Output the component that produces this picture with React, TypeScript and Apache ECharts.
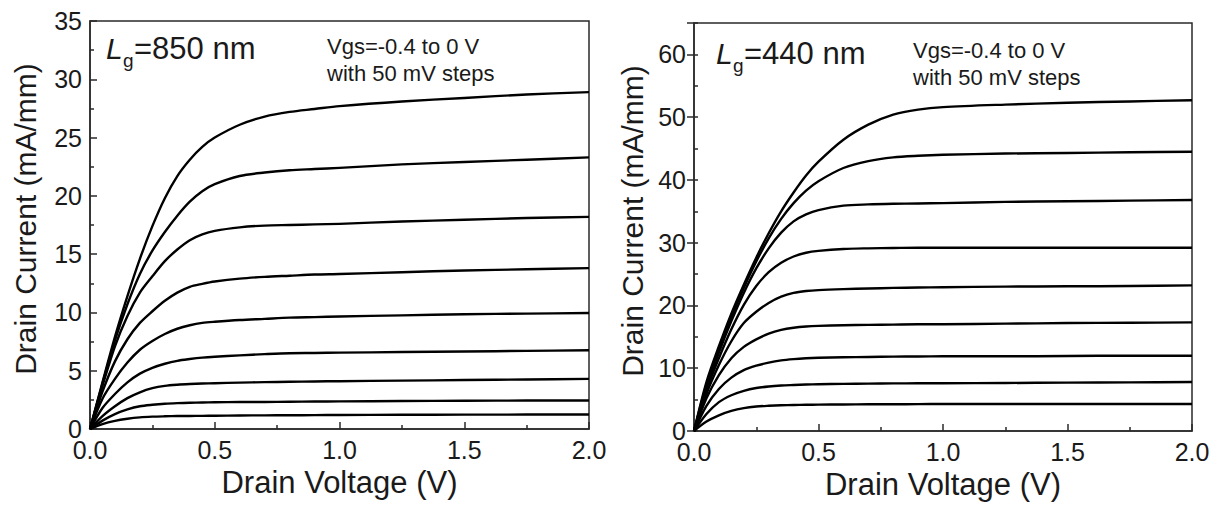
import React, { useEffect, useRef } from "react";
import * as echarts from "echarts";

// Drain voltage sample points (V)
const drainVoltage = [0, 0.05, 0.1, 0.15, 0.2, 0.25, 0.3, 0.35, 0.4, 0.45, 0.5, 0.6, 0.7, 0.8, 0.9, 1.0, 1.25, 1.5, 1.75, 2.0];

// Lg = 850 nm, Vgs = -0.4 ... 0 V (mA/mm)
const lg850_vgsm040 = [0, 0.42, 0.7, 0.88, 1.0, 1.06, 1.09, 1.11, 1.12, 1.13, 1.14, 1.16, 1.17, 1.18, 1.19, 1.2, 1.22, 1.23, 1.24, 1.25];
const lg850_vgsm035 = [0, 0.72, 1.28, 1.68, 1.95, 2.08, 2.17, 2.22, 2.25, 2.27, 2.29, 2.31, 2.32, 2.34, 2.36, 2.37, 2.4, 2.42, 2.44, 2.45];
const lg850_vgsm030 = [0, 1.1, 1.95, 2.65, 3.15, 3.5, 3.7, 3.8, 3.86, 3.9, 3.93, 3.98, 4.02, 4.05, 4.08, 4.1, 4.15, 4.2, 4.25, 4.3];
const lg850_vgsm025 = [0, 1.8, 3.0, 4.0, 4.75, 5.25, 5.6, 5.85, 6.0, 6.12, 6.2, 6.32, 6.42, 6.5, 6.52, 6.55, 6.6, 6.65, 6.7, 6.75];
const lg850_vgsm020 = [0, 2.6, 4.3, 5.7, 6.8, 7.55, 8.15, 8.6, 8.9, 9.1, 9.2, 9.35, 9.45, 9.55, 9.6, 9.65, 9.75, 9.85, 9.9, 9.95];
const lg850_vgsm015 = [0, 3.2, 5.8, 7.7, 9.1, 10.1, 11.0, 11.7, 12.2, 12.45, 12.65, 12.9, 13.05, 13.15, 13.25, 13.3, 13.45, 13.6, 13.7, 13.8];
const lg850_vgsm010 = [0, 3.7, 7.1, 9.7, 11.7, 13.1, 14.4, 15.4, 16.2, 16.7, 17.0, 17.3, 17.45, 17.5, 17.55, 17.6, 17.8, 17.95, 18.1, 18.2];
const lg850_vgsm005 = [0, 3.9, 7.6, 10.7, 13.3, 15.3, 16.9, 18.3, 19.5, 20.4, 21.0, 21.7, 22.0, 22.2, 22.3, 22.4, 22.7, 22.9, 23.1, 23.3];
const lg850_vgs000 = [0, 4.0, 7.9, 11.4, 14.6, 17.4, 19.8, 21.7, 23.1, 24.2, 25.0, 26.1, 26.8, 27.2, 27.45, 27.7, 28.1, 28.4, 28.7, 28.9];

// Lg = 440 nm, Vgs = -0.4 ... 0 V (mA/mm)
const lg440_vgsm040 = [0, 1.5, 2.5, 3.2, 3.65, 3.9, 4.02, 4.1, 4.15, 4.18, 4.2, 4.22, 4.25, 4.26, 4.28, 4.3, 4.3, 4.3, 4.3, 4.3];
const lg440_vgsm035 = [0, 2.7, 4.6, 5.7, 6.4, 6.85, 7.1, 7.25, 7.33, 7.4, 7.45, 7.5, 7.55, 7.58, 7.6, 7.6, 7.65, 7.7, 7.75, 7.8];
const lg440_vgsm030 = [0, 4.0, 6.7, 8.5, 9.7, 10.4, 10.9, 11.25, 11.45, 11.58, 11.66, 11.75, 11.8, 11.85, 11.88, 11.9, 11.9, 11.95, 12.0, 12.0];
const lg440_vgsm025 = [0, 5.2, 8.9, 11.6, 13.4, 14.6, 15.5, 16.1, 16.45, 16.65, 16.75, 16.85, 16.9, 16.95, 17.0, 17.0, 17.1, 17.2, 17.25, 17.3];
const lg440_vgsm020 = [0, 5.9, 10.5, 14.3, 17.2, 19.0, 20.4, 21.4, 22.0, 22.3, 22.45, 22.6, 22.7, 22.8, 22.85, 22.9, 23.0, 23.05, 23.1, 23.2];
const lg440_vgsm015 = [0, 6.5, 11.6, 16.2, 20.1, 23.1, 25.3, 26.8, 27.8, 28.4, 28.7, 29.0, 29.1, 29.15, 29.2, 29.2, 29.2, 29.2, 29.2, 29.2];
const lg440_vgsm010 = [0, 6.9, 12.5, 17.5, 22.0, 25.9, 29.1, 31.6, 33.4, 34.5, 35.2, 35.9, 36.1, 36.2, 36.25, 36.3, 36.5, 36.6, 36.7, 36.8];
const lg440_vgsm005 = [0, 7.4, 13.0, 18.2, 22.8, 27.0, 30.7, 33.8, 36.3, 38.3, 39.8, 41.9, 43.0, 43.6, 43.85, 44.0, 44.2, 44.3, 44.4, 44.5];
const lg440_vgs000 = [0, 7.8, 13.5, 18.7, 23.3, 27.6, 31.5, 35.0, 38.0, 40.7, 42.9, 46.4, 48.8, 50.4, 51.2, 51.6, 52.0, 52.3, 52.5, 52.7];

const curves850 = [lg850_vgsm040, lg850_vgsm035, lg850_vgsm030, lg850_vgsm025, lg850_vgsm020, lg850_vgsm015, lg850_vgsm010, lg850_vgsm005, lg850_vgs000];
const curves440 = [lg440_vgsm040, lg440_vgsm035, lg440_vgsm030, lg440_vgsm025, lg440_vgsm020, lg440_vgsm015, lg440_vgsm010, lg440_vgsm005, lg440_vgs000];

const xTitle = "Drain Voltage (V)";
const yTitle = "Drain Current (mA/mm)";
const note1 = "Vgs=-0.4 to 0 V";
const note2 = "with 50 mV steps";

const FONT = "'Liberation Sans', Arial, Helvetica, sans-serif";
const INK = "#1a1a1a";
const AXIS = "#2a2a2a";

function xAxisOpt(gridIndex: number) {
  return {
    type: "value",
    gridIndex,
    min: 0,
    max: 2,
    interval: 0.5,
    name: xTitle,
    nameLocation: "middle",
    nameGap: 37,
    nameTextStyle: { fontFamily: FONT, fontSize: 31, color: INK },
    axisLine: { show: true, onZero: false, lineStyle: { color: AXIS, width: 1.5 } },
    axisTick: { show: true, inside: true, length: 7, lineStyle: { color: AXIS, width: 1.5 } },
    minorTick: { show: true, splitNumber: 2, length: 4, lineStyle: { color: AXIS, width: 1.5 } },
    splitLine: { show: false },
    minorSplitLine: { show: false },
    axisLabel: {
      fontFamily: FONT,
      fontSize: 25,
      color: INK,
      margin: 8,
      formatter: (v: number) => v.toFixed(1),
    },
  };
}

function yAxisMain(gridIndex: number, max: number, interval: number, minor: boolean, labelStep: number, nameGap: number) {
  return {
    type: "value",
    gridIndex,
    min: 0,
    max,
    interval,
    name: yTitle,
    nameLocation: "middle",
    nameRotate: 90,
    nameGap,
    nameTextStyle: { fontFamily: FONT, fontSize: 30, color: INK, padding: [0, 0, 0, 12] },
    axisLine: { show: true, onZero: false, lineStyle: { color: AXIS, width: 1.5 } },
    axisTick: { show: true, inside: true, length: minor ? 7 : 4, lineStyle: { color: AXIS, width: 1.5 } },
    minorTick: { show: minor, splitNumber: 2, length: 4, lineStyle: { color: AXIS, width: 1.5 } },
    splitLine: { show: false },
    minorSplitLine: { show: false },
    axisLabel: {
      fontFamily: FONT,
      fontSize: 25,
      color: INK,
      margin: 8,
      showMaxLabel: true,
      formatter: (v: number) => (Math.round(v) % labelStep === 0 ? String(v) : ""),
    },
  };
}

function buildSeries(curves: number[][], xAxisIndex: number, yAxisIndex: number) {
  return curves.map((c, i) => ({
    type: "line",
    name: `s${xAxisIndex}-${i}`,
    xAxisIndex,
    yAxisIndex,
    data: drainVoltage.map((x, j) => [x, c[j]]),
    showSymbol: false,
    symbol: "none",
    smooth: 0.3,
    lineStyle: { color: "#000", width: 2.4, join: "round" },
    silent: true,
  }));
}

function annotation(baseX: number, baseY: number, lg: string, noteX: number, noteY: number) {
  return [
    {
      type: "text",
      left: baseX,
      top: baseY,
      style: { text: "L", font: `italic 30px ${FONT}`, fill: INK },
    },
    {
      type: "text",
      left: baseX + 17,
      top: baseY + 18,
      style: { text: "g", font: `19px ${FONT}`, fill: INK },
    },
    {
      type: "text",
      left: baseX + 28,
      top: baseY,
      style: { text: `=${lg} nm`, font: `31px ${FONT}`, fill: INK },
    },
    {
      type: "text",
      left: noteX,
      top: noteY,
      style: { text: `${note1}\n${note2}`, font: `22px ${FONT}`, fill: INK, lineHeight: 27 },
    },
  ];
}

export default function App() {
  const ref = useRef<HTMLDivElement>(null);
  useEffect(() => {
    if (!ref.current) return;
    const chart = echarts.init(ref.current, null, { renderer: "svg" });
    const option = {
      animation: false,
      backgroundColor: "#ffffff",
      grid: [
        { left: 90, top: 21, width: 499, height: 408, show: true, borderColor: AXIS, borderWidth: 1.5, containLabel: false },
        { left: 694, top: 23, width: 498, height: 408, show: true, borderColor: AXIS, borderWidth: 1.5, containLabel: false },
      ],
      xAxis: [xAxisOpt(0), xAxisOpt(1)],
      yAxis: [
        yAxisMain(0, 35, 5, true, 5, 50),
        yAxisMain(1, 65, 5, false, 10, 47),
        {
          type: "value",
          gridIndex: 1,
          min: 0,
          max: 65,
          interval: 10,
          axisLine: { show: false },
          axisTick: { show: true, inside: true, length: 7, lineStyle: { color: AXIS, width: 1.5 } },
          axisLabel: { show: false },
          splitLine: { show: false },
        },
      ],
      series: [...buildSeries(curves850, 0, 0), ...buildSeries(curves440, 1, 1)],
      graphic: [...annotation(106, 33, "850", 327, 33), ...annotation(716, 38, "440", 913, 37)],
    };
    chart.setOption(option as any);
    return () => chart.dispose();
  }, []);
  return (
    <div
      ref={ref}
      style={{ position: "fixed", left: 0, top: 0, width: 1220, height: 506, background: "#fff" }}
    />
  );
}
